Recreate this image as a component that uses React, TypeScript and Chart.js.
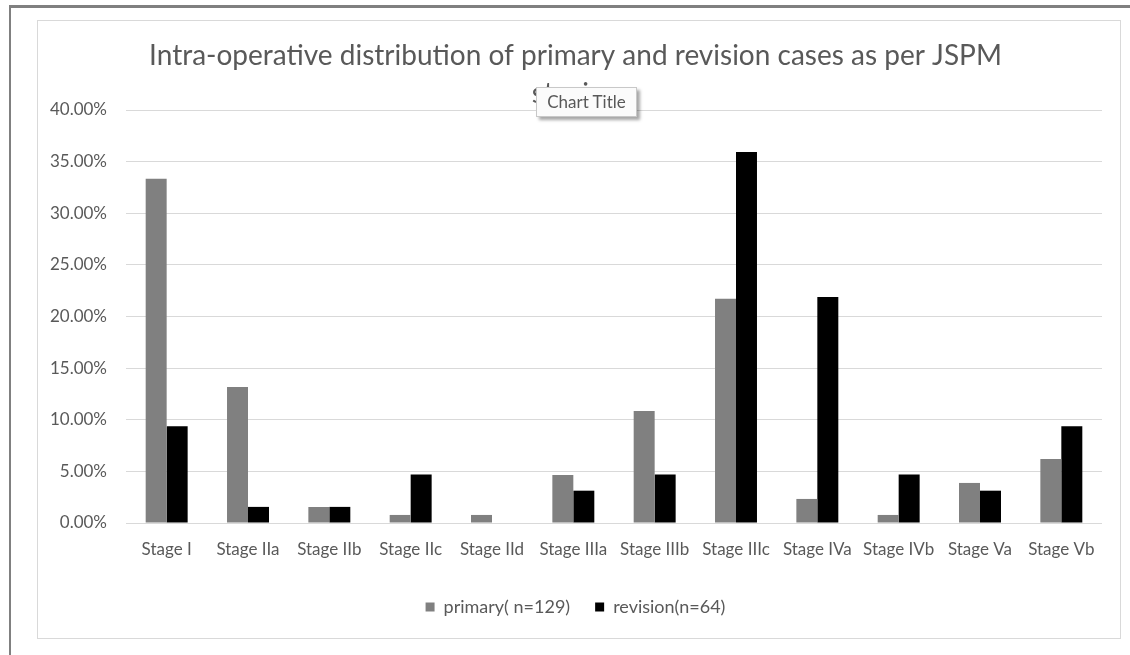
import React, { useEffect, useRef } from "react";
import { Chart, registerables } from "chart.js";

Chart.register(...registerables);

const categories = [
  "Stage I", "Stage IIa", "Stage IIb", "Stage IIc", "Stage IId", "Stage IIIa",
  "Stage IIIb", "Stage IIIc", "Stage IVa", "Stage IVb", "Stage Va", "Stage Vb",
];
const primaryValues = [33.33, 13.18, 1.55, 0.78, 0.78, 4.65, 10.85, 21.71, 2.33, 0.78, 3.88, 6.2];
const revisionValues = [9.38, 1.56, 1.56, 4.69, 0, 3.13, 4.69, 35.94, 21.88, 4.69, 3.13, 9.38];
const seriesNames = ["primary( n=129)", "revision(n=64)"];
const titleLines = ["Intra-operative distribution of primary and revision cases as per JSPM", "staging"];
const yMax = 40;
const yStep = 5;

const FONT = "Lato, 'Open Sans', sans-serif";
const TEXT = "#595959";

export default function App() {
  const ref = useRef<HTMLCanvasElement | null>(null);

  useEffect(() => {
    if (!ref.current) return;
    const chart = new Chart(ref.current, {
      type: "bar",
      data: {
        labels: categories,
        datasets: [
          { label: seriesNames[0], data: primaryValues, backgroundColor: "#808080", borderWidth: 0 },
          { label: seriesNames[1], data: revisionValues, backgroundColor: "#000000", borderWidth: 0 },
        ],
      },
      options: {
        animation: false,
        responsive: false,
        maintainAspectRatio: false,
        devicePixelRatio: 1,
        datasets: { bar: { categoryPercentage: 0.516, barPercentage: 1 } },
        layout: { padding: { left: 12, right: 19, top: 0, bottom: 13 } },
        plugins: {
          tooltip: { enabled: false },
          title: {
            display: true,
            text: titleLines,
            color: TEXT,
            font: { family: FONT, size: 28, weight: "normal", lineHeight: 38 / 28 },
            padding: { top: 17, bottom: -3 },
          },
          legend: {
            display: true,
            position: "bottom",
            labels: {
              color: TEXT,
              font: { family: FONT, size: 18 },
              boxWidth: 9,
              boxHeight: 9,
              padding: 25,
            },
          },
        },
        scales: {
          x: {
            grid: { display: false, drawTicks: false },
            border: { display: false },
            ticks: { color: TEXT, font: { family: FONT, size: 17 }, padding: 16, maxRotation: 0, autoSkip: false },
            afterFit: (s: any) => { s.height = 50; },
          },
          y: {
            min: 0,
            max: yMax,
            grid: { color: "#d9d9d9", lineWidth: 1, drawTicks: false },
            border: { display: false },
            ticks: {
              stepSize: yStep,
              color: TEXT,
              font: { family: FONT, size: 17 },
              padding: 19,
              callback: (v: any) => Number(v).toFixed(2) + "%",
            },
            afterFit: (s: any) => { s.width = 77; },
          },
        },
      },
    });
    return () => chart.destroy();
  }, []);

  return (
    <div style={{ position: "fixed", left: 0, top: 0, width: 1130, height: 655, background: "#ffffff", overflow: "hidden" }}>
      <div style={{ position: "absolute", left: 9, top: 5, right: -10, bottom: -10, borderTop: "3px solid #808080", borderLeft: "2px solid #808080" }} />
      <div style={{ position: "absolute", left: 37, top: 20, width: 1084, height: 619, boxSizing: "border-box", border: "1px solid #d9d9d9" }} />
      <canvas ref={ref} width={1084} height={619} style={{ position: "absolute", left: 37, top: 20, width: 1084, height: 619 }} />
      <div
        style={{
          position: "absolute", left: 536, top: 87, width: 101, height: 30, boxSizing: "border-box",
          background: "#fbfbfb", border: "1px solid #c8c8c8", boxShadow: "3px 3px 3px rgba(0,0,0,0.35)",
          color: TEXT, fontFamily: FONT, fontSize: 17, lineHeight: "28px", textAlign: "center", whiteSpace: "nowrap",
        }}
      >
        Chart Title
      </div>
    </div>
  );
}
